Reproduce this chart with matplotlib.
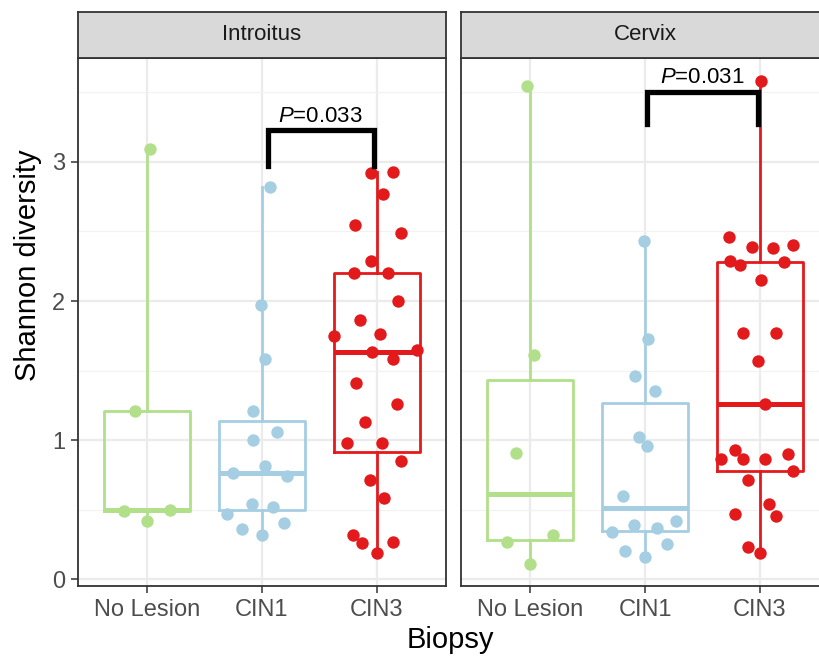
import numpy as np
import matplotlib
matplotlib.use("Agg")
import matplotlib.pyplot as plt

plt.rcParams['font.family'] = ['Liberation Sans', 'DejaVu Sans']
plt.rcParams['mathtext.fontset'] = 'custom'
plt.rcParams['mathtext.rm'] = 'Liberation Sans'
plt.rcParams['mathtext.it'] = 'Liberation Sans:italic'

categories = ["No Lesion", "CIN1", "CIN3"]
facets = ["Introitus", "Cervix"]
colors = ["#B2DF8A", "#A6CEE3", "#E31A1C"]

# Shannon diversity per sample
intro_none = [3.09, 1.21, 0.49, 0.50, 0.42]
intro_cin1 = [2.82, 1.97, 1.58, 1.21, 1.06, 1.00, 0.81, 0.76, 0.74,
              0.54, 0.52, 0.47, 0.40, 0.36, 0.32]
intro_cin3 = [2.92, 2.93, 2.77, 2.55, 2.49, 2.29, 2.20, 2.20, 2.00,
              1.86, 1.75, 1.76, 1.63, 1.65, 1.58, 1.41, 1.26, 1.13,
              0.98, 0.98, 0.85, 0.71, 0.58, 0.32, 0.26, 0.27, 0.19]
cervix_none = [3.55, 1.61, 0.91, 0.27, 0.32, 0.11]
cervix_cin1 = [2.43, 1.73, 1.46, 1.35, 1.02, 0.96, 0.60, 0.42, 0.39,
               0.37, 0.34, 0.25, 0.20, 0.16]
cervix_cin3 = [3.58, 2.46, 2.39, 2.38, 2.40, 2.29, 2.26, 2.28, 2.15,
               1.77, 1.77, 1.57, 1.26, 0.93, 0.86, 0.86, 0.86, 0.90,
               0.78, 0.71, 0.54, 0.45, 0.47, 0.23, 0.19]

# horizontal jitter of the points, as seen in the figure
jit_intro_none = [0.03, -0.10, -0.20, 0.20, 0.0]
jit_intro_cin1 = [0.07, -0.01, 0.03, -0.08, 0.13, -0.08, 0.03, -0.25, 0.22,
                  -0.09, 0.10, -0.30, 0.19, -0.17, 0.0]
jit_intro_cin3 = [-0.05, 0.14, 0.05, -0.19, 0.21, -0.05, -0.20, 0.10, 0.18,
                  -0.15, -0.37, 0.03, -0.04, 0.35, 0.14, -0.18, 0.17, -0.10,
                  -0.26, 0.04, 0.21, -0.06, 0.06, -0.21, -0.13, 0.14, 0.0]
jit_cervix_none = [-0.03, 0.035, -0.12, -0.20, 0.20, 0.0]
jit_cervix_cin1 = [-0.005, 0.03, -0.09, 0.09, -0.05, 0.02, -0.19, 0.27, -0.10,
                   0.10, -0.29, 0.19, -0.17, 0.0]
jit_cervix_cin3 = [0.01, -0.27, -0.07, 0.11, 0.29, -0.26, -0.17, 0.21, 0.01,
                   -0.15, 0.14, -0.02, 0.04, -0.22, -0.34, -0.15, 0.04, 0.24,
                   0.29, -0.10, 0.08, 0.14, -0.22, -0.10, 0.0]

pvals = ["0.033", "0.031"]

data = [[intro_none, intro_cin1, intro_cin3],
        [cervix_none, cervix_cin1, cervix_cin3]]
jitter = [[jit_intro_none, jit_intro_cin1, jit_intro_cin3],
          [jit_cervix_none, jit_cervix_cin1, jit_cervix_cin3]]
# bracket: x from, x to, y top, y leg bottom, label baseline
brackets = [(2.05, 2.97, 3.23, 2.97, 3.29),
            (2.02, 2.98, 3.50, 3.27, 3.57)]

W, H = 820, 659
fig = plt.figure(figsize=(W / 100, H / 100), dpi=100)

panel_w = 368 / W
panel_b = (H - 586) / H
panel_h = 528 / H
lefts = [78 / W, 461 / W]
strip_h = 46 / H

for k in range(2):
    ax = fig.add_axes([lefts[k], panel_b, panel_w, panel_h])
    ax.set_xlim(0.4, 3.6)
    ax.set_ylim(-0.05, 3.748)
    ax.set_yticks([0, 1, 2, 3])
    ax.set_yticks([0.5, 1.5, 2.5, 3.5], minor=True)
    ax.set_xticks([1, 2, 3])
    ax.set_xticklabels(categories)
    ax.grid(which='major', color='#EBEBEB', lw=1.6)
    ax.grid(which='minor', axis='y', color='#F2F2F2', lw=0.9)
    ax.set_axisbelow(True)
    ax.tick_params(which='minor', length=0)
    ax.tick_params(which='major', length=5, width=1.1, color='#333333',
                   labelsize=17, labelcolor='#4D4D4D', pad=4)
    if k == 1:
        ax.set_yticklabels([])
        ax.tick_params(axis='y', length=0)
    for s in ax.spines.values():
        s.set_color('#333333')
        s.set_linewidth(1.3)

    for i in range(3):
        c = colors[i]
        ax.boxplot(data[k][i], positions=[i + 1], widths=0.75, whis=(0, 100),
                   showfliers=False, showcaps=False,
                   boxprops=dict(color=c, lw=2.0),
                   whiskerprops=dict(color=c, lw=2.0),
                   medianprops=dict(color=c, lw=3.6),
                   manage_ticks=False)
        xs = np.array(jitter[k][i]) + i + 1
        ax.scatter(xs, data[k][i], s=80, color=c, zorder=4, linewidths=0)

    x1, x2, yt, yb, yl = brackets[k]
    ax.plot([x1, x1, x2, x2], [yb, yt, yt, yb], color='black', lw=3.8,
            solid_joinstyle='miter', zorder=5)
    ax.text((x1 + x2) / 2, yl, "$P$=" + pvals[k], ha='center', va='baseline',
            fontsize=16, color='black')

    sax = fig.add_axes([lefts[k], panel_b + panel_h, panel_w, strip_h])
    sax.set_xticks([])
    sax.set_yticks([])
    sax.set_facecolor('#D9D9D9')
    for s in sax.spines.values():
        s.set_color('#333333')
        s.set_linewidth(1.3)
    sax.text(0.5, 0.5, facets[k], transform=sax.transAxes, ha='center',
             va='center', fontsize=16, color='#1A1A1A')

fig.text(28 / W, (H - 265) / H, "Shannon diversity", rotation=90,
         ha='center', va='center', fontsize=21, color='black')
fig.text(450 / W, (H - 640) / H, "Biopsy", ha='center', va='center',
         fontsize=21, color='black')

fig.savefig("out.png", dpi=100)
